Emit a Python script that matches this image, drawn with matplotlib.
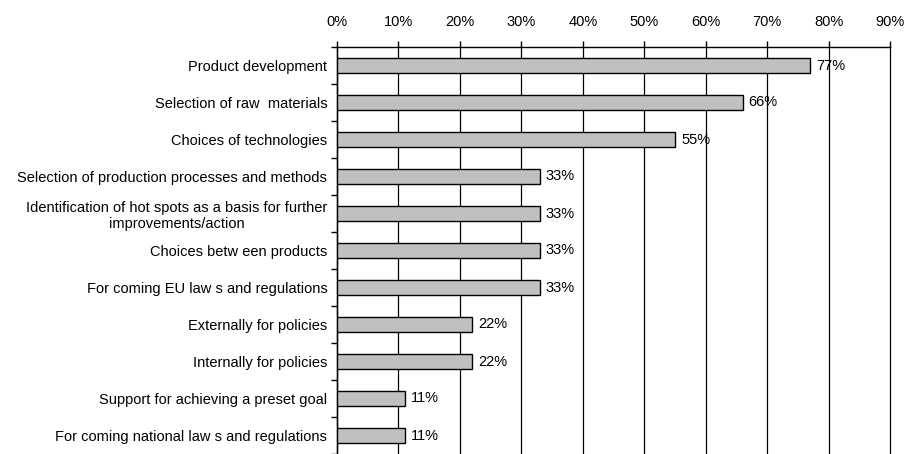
import matplotlib.pyplot as plt
import numpy as np
from matplotlib.ticker import FixedLocator

plt.rcParams['font.family'] = ['Liberation Sans', 'DejaVu Sans']

categories = [
    'Product development',
    'Selection of raw  materials',
    'Choices of technologies',
    'Selection of production processes and methods',
    'Identification of hot spots as a basis for further\nimprovements/action',
    'Choices betw een products',
    'For coming EU law s and regulations',
    'Externally for policies',
    'Internally for policies',
    'Support for achieving a preset goal',
    'For coming national law s and regulations',
]
values = [77, 66, 55, 33, 33, 33, 33, 22, 22, 11, 11]
xticks = [0, 10, 20, 30, 40, 50, 60, 70, 80, 90]

fig = plt.figure(figsize=(9.08, 4.54), dpi=100)
ax = fig.add_axes([337/908, 0, 553/908, 1 - 47/454])

y = np.arange(len(categories))
ax.barh(y, values, height=0.43, color='#c0c0c0', edgecolor='black', linewidth=1, zorder=3)

for yi, v in zip(y, values):
    ax.text(v + 1.0, yi, f'{v}%', va='center', ha='left', fontsize=10.5, zorder=4)

ax.set_xlim(0, 90)
ax.set_ylim(len(categories) - 0.5, -0.5)

ax.xaxis.tick_top()
ax.set_xticks(xticks)
ax.set_xticklabels([f'{t}%' for t in xticks], fontsize=10.5)
ax.tick_params(axis='x', direction='out', length=4, width=1, pad=9, color='black')
ax.grid(axis='x', color='black', linewidth=0.9, zorder=1)
for gl in ax.get_xgridlines():
    gl.set_clip_on(False)

ax.set_yticks(y)
ax.set_yticklabels(categories, fontsize=10.5, ha='right', multialignment='center')
ax.tick_params(axis='y', which='major', length=0, pad=7)
ax.yaxis.set_minor_locator(FixedLocator(np.arange(-0.5, len(categories), 1.0)))
ax.tick_params(axis='y', which='minor', direction='out', length=4, width=1, color='black')

for s in ['right', 'bottom']:
    ax.spines[s].set_visible(False)
ax.spines['top'].set_linewidth(1)
ax.spines['left'].set_linewidth(1)

fig.savefig('out.png', dpi=100)
